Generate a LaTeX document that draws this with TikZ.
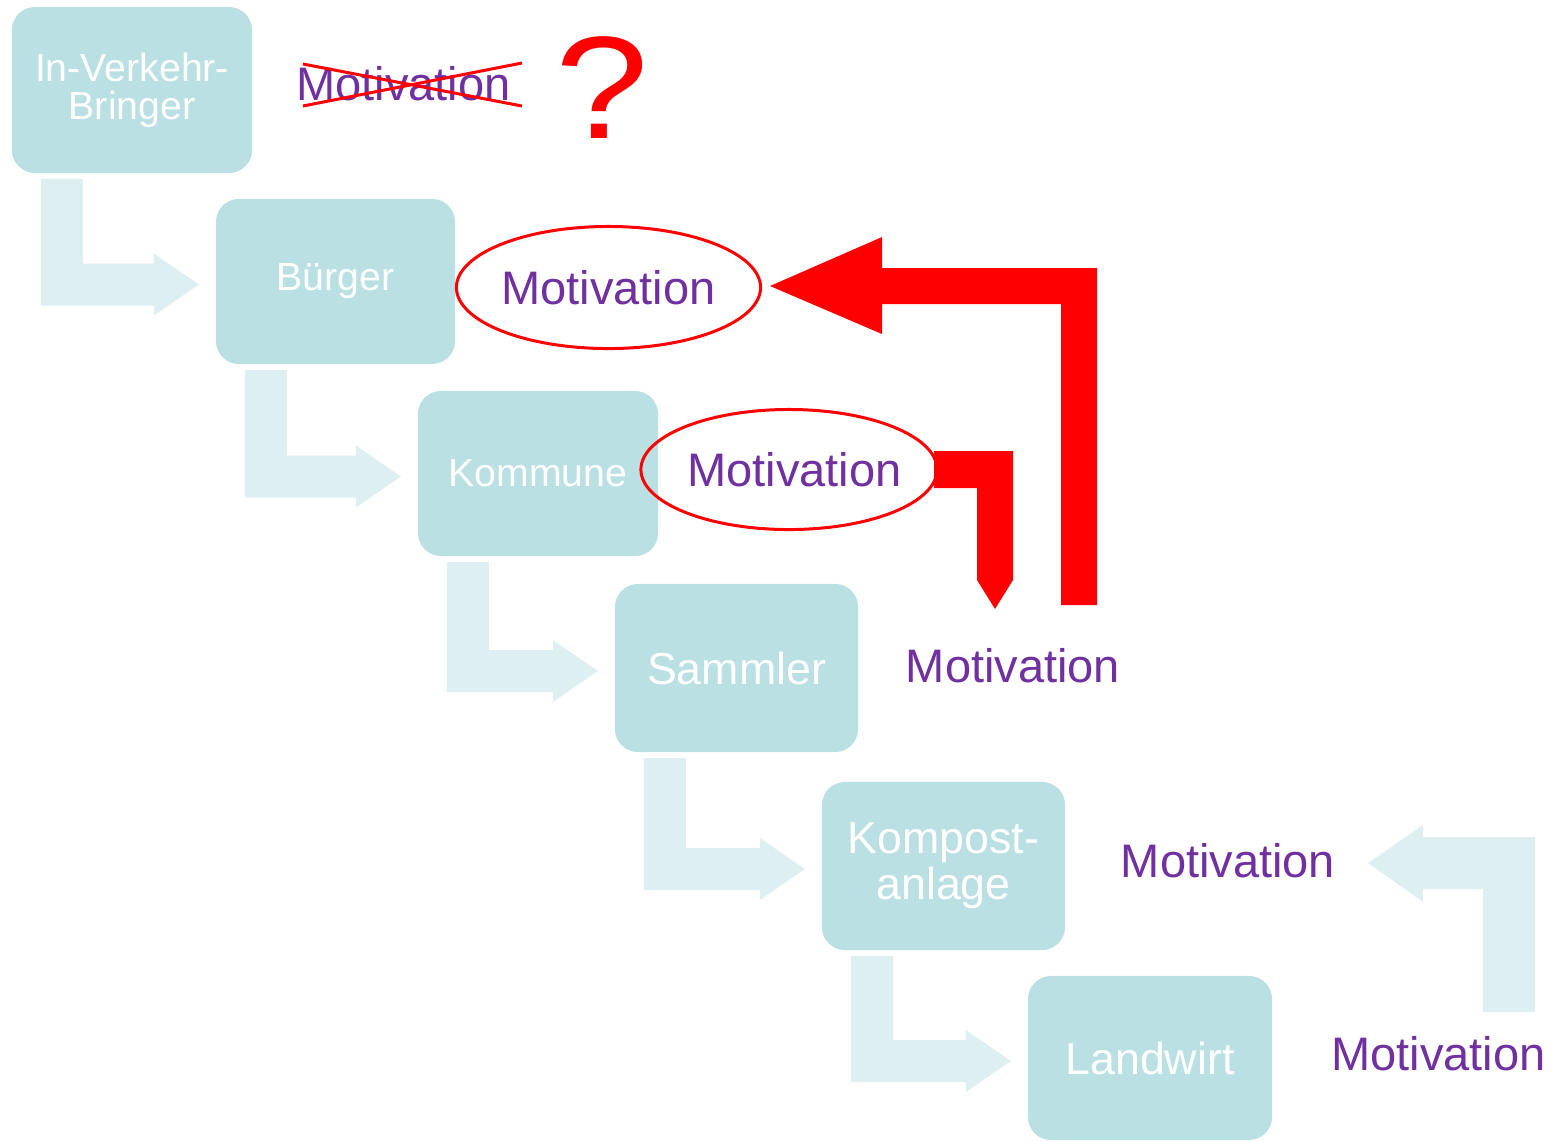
\documentclass[tikz,border=0pt]{standalone}
\usepackage{fontspec}
\setmainfont{Liberation Sans}
\usetikzlibrary{shapes.geometric,calc}
\definecolor{boxfill}{HTML}{BAE0E3}
\definecolor{flowfill}{HTML}{DEEFF2}
\definecolor{motiv}{HTML}{7030A0}
\definecolor{alarm}{HTML}{FF0000}
% light bent arrow from the bottom of one box into the left side of the next
\newcommand\bendarrow[2]{%
  \fill[flow] let \p1=(#1.south west), \p2=(#2.west), \p3=(\x2-0.17cm,\y2-0.03cm) in
    (\x1+0.29cm,\y1-0.06cm) -- (\x1+0.71cm,\y1-0.06cm) -- (\x1+0.71cm,\y3+0.21cm)
    -- (\x3-0.45cm,\y3+0.21cm) -- (\x3-0.45cm,\y3+0.31cm) -- (\p3)
    -- (\x3-0.45cm,\y3-0.31cm) -- (\x3-0.45cm,\y3-0.21cm) -- (\x1+0.29cm,\y3-0.21cm) -- cycle;}
\begin{document}
\begin{tikzpicture}[x=0.01cm,y=-0.01cm,
  box/.style={rectangle, rounded corners=0.23cm, fill=boxfill, text=white,
    inner sep=0pt, outer sep=0pt, align=center},
  boxfontS/.style={font=\fontsize{11.15}{10.8}\selectfont},
  boxfontL/.style={font=\fontsize{12.72}{13.1}\selectfont},
  motivtext/.style={text=motiv, inner sep=0pt, font=\fontsize{13.37}{16}\selectfont},
  ring/.style={ellipse, draw=alarm, line width=0.85pt, inner sep=0pt},
  flow/.style={fill=flowfill},
  alarmflow/.style={fill=alarm}]
\useasboundingbox (0,0) rectangle (1560,1141);

% chain of actors
\node[box, boxfontS, minimum width=2.40cm, minimum height=1.66cm] (b1) at (132,90) {In-Verkehr-\\Bringer};
\node[box, boxfontS, minimum width=2.39cm, minimum height=1.65cm] (b2) at (335.5,281.5) {Bürger};
\node[box, boxfontS, minimum width=2.40cm, minimum height=1.65cm] (b3) at (538,473.5) {Kommune};
\node[box, boxfontL, minimum width=2.43cm, minimum height=1.68cm] (b4) at (736.5,668) {Sammler};
\node[box, boxfontL, minimum width=2.43cm, minimum height=1.68cm] (b5) at (943.5,866) {Kompost-\\anlage};
\node[box, boxfontL, minimum width=2.44cm, minimum height=1.64cm] (b6) at (1150,1058) {Landwirt};

% flow between the actors
\bendarrow{b1}{b2}
\bendarrow{b2}{b3}
\bendarrow{b3}{b4}
\bendarrow{b4}{b5}
\bendarrow{b5}{b6}

% motivation labels
\node[motivtext, anchor=base] (m0) at (403.5,100) {Motivation};
\draw[alarm, line width=0.85pt] (303,64) -- (522,106) (303,106) -- (522,63);
\node[text=alarm, inner sep=0pt, anchor=base, font=\fontsize{41.5}{42}\selectfont] (q) at (602,138) {\scalebox{1.15}[1]{?}};

\node[ring, motivtext, minimum width=3.04cm, minimum height=1.22cm] (e1) at (608.5,287.5) {Motivation};
\node[ring, minimum width=2.96cm, minimum height=1.20cm] (e2) at (789,469.5) {};
\node[motivtext] (m2) at (794.5,469.5) {Motivation};
\node[motivtext, anchor=base] (m3) at (1013,682) {Motivation};
\node[motivtext, anchor=base] (m4) at (1228,877) {Motivation};
\node[motivtext, anchor=base] (m5) at (1438.5,1070) {Motivation};

% feedback arrows
\coordinate (bigtail) at (1079,605);
\coordinate (smalltip) at (995,609);
\fill[alarmflow] (770,286) -- (882,237) -- (882,268) -- (1097,268) -- (1097,605)
  -- (1061,605) -- (1061,304) -- (882,304) -- (882,334) -- cycle;
\fill[alarmflow] (934,451) -- (1013,451) -- (1013,580) -- (smalltip) -- (977,580)
  -- (977,488) -- (934,488) -- cycle;
\fill[flow] (1368,863) -- (1423,825) -- (1423,837) -- (1535,837) -- (1535,1012)
  -- (1483,1012) -- (1483,889) -- (1423,889) -- (1423,902) -- cycle;
\end{tikzpicture}
\end{document}
